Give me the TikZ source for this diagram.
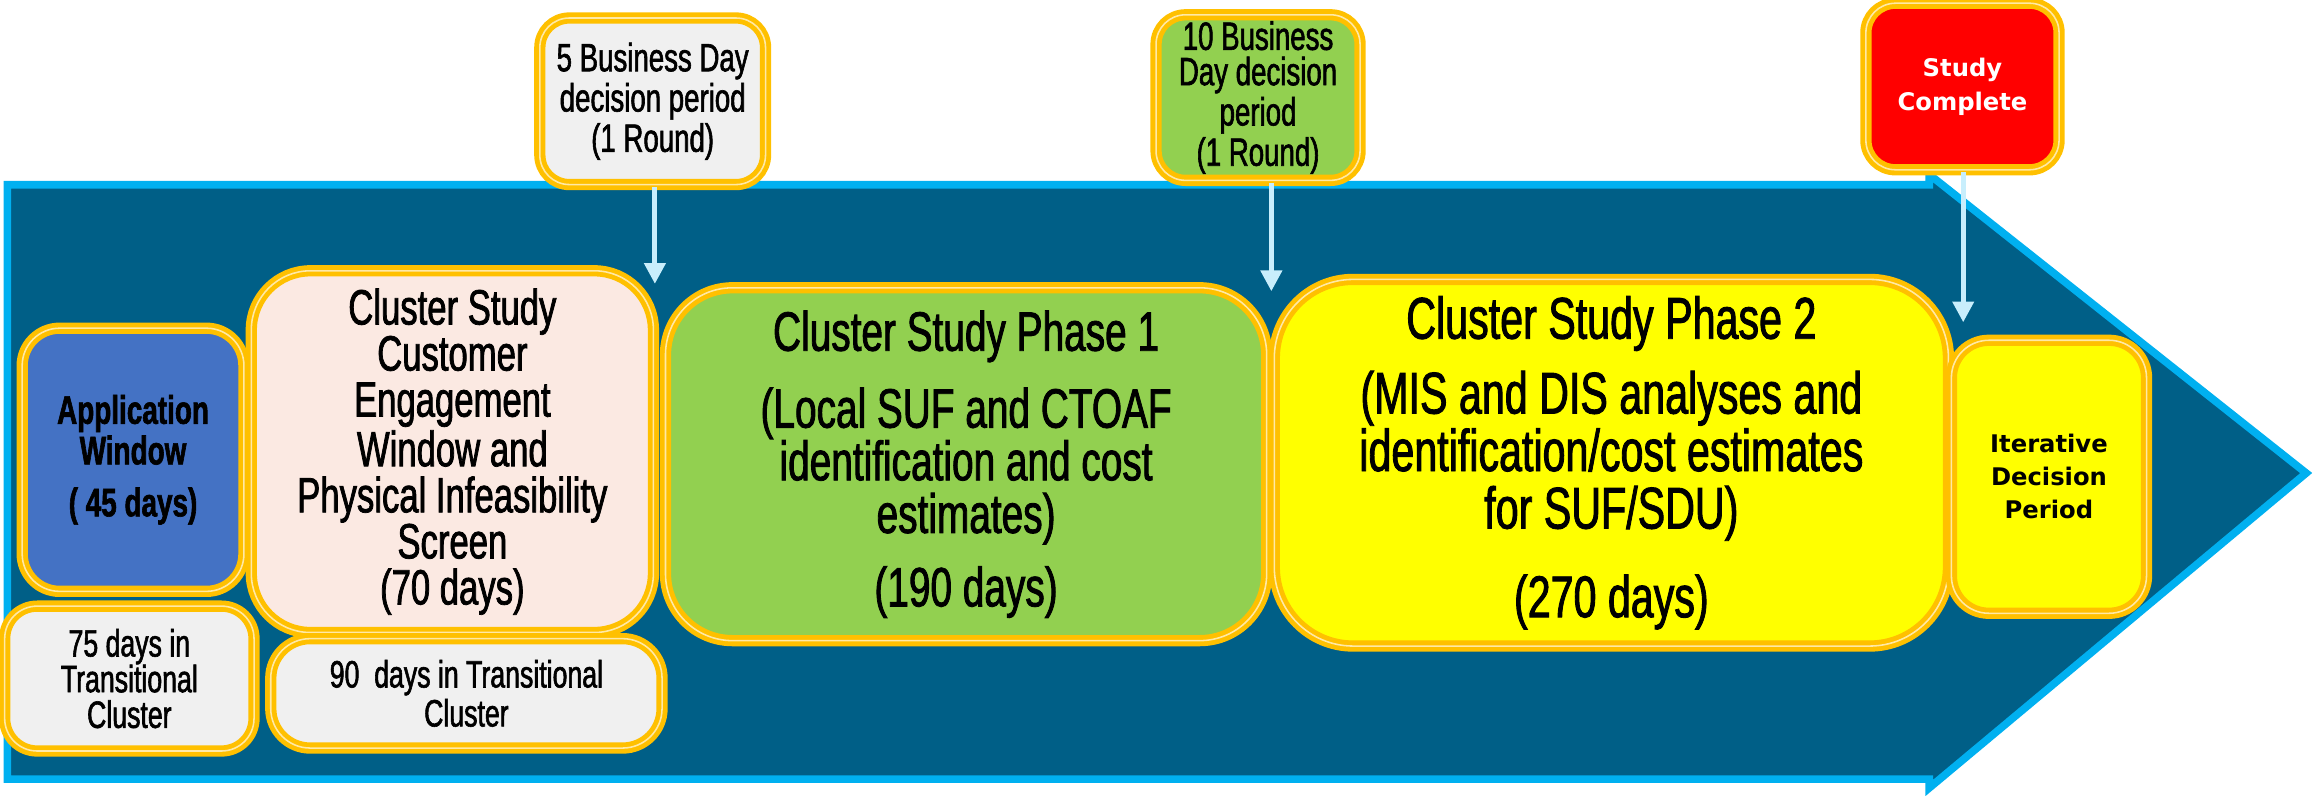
\documentclass[tikz,border=0pt]{standalone}
\usepackage{fontspec}
\setmainfont{Liberation Sans}[FakeStretch=0.7, FakeBold=1.5]
\newfontfamily\wide{DejaVu Sans}
\usetikzlibrary{arrows.meta}
\definecolor{gold}{RGB}{255,192,0}
\definecolor{sea}{RGB}{0,95,135}
\definecolor{sky}{RGB}{0,176,240}
\definecolor{pale}{RGB}{200,238,252}
\definecolor{grey1}{RGB}{240,240,240}
\definecolor{pink1}{RGB}{251,233,226}
\definecolor{blue1}{RGB}{68,114,196}
\definecolor{green1}{RGB}{146,208,80}
\definecolor{yellow1}{RGB}{255,255,0}
\definecolor{red1}{RGB}{255,0,0}
\begin{document}
\begin{tikzpicture}[x=0.15mm,y=-0.15mm,
  box/.style={draw=gold, double=gold!35, double distance=0.45pt, line width=1.4pt,
    align=center, inner sep=0pt},
  drop/.style={draw=pale, line width=1.4pt, -{Triangle[width=6pt,length=6pt,fill=pale]}}]
  \useasboundingbox (0,0) rectangle (1568,538);
  % the big arrow
  \draw[draw=sky, fill=sea, line width=2.2pt] (5,125) -- (1305,125) -- (1305,118)
    -- (1560,320) -- (1305,533) -- (1305,527) -- (5,527) -- cycle;
  % stages
  \node[box, fill=blue1, minimum width=2.25cm, minimum height=2.67cm, rounded corners=0.38cm,
    font=\fontsize{11.5}{10}\selectfont\bfseries] (app) at (90,311)
    {Application\\Window\\[5pt]( 45 days)};
  \node[box, fill=grey1, minimum width=2.53cm, minimum height=1.47cm, rounded corners=0.33cm,
    font=\fontsize{11}{10.3}\selectfont] (t75) at (87.5,459)
    {75 days in\\Transitional\\Cluster};
  \node[box, fill=pink1, minimum width=4.08cm, minimum height=3.67cm, rounded corners=0.6cm,
    font=\fontsize{14.3}{13.3}\selectfont] (cce) at (306,305.5)
    {Cluster Study\\Customer\\Engagement\\Window and\\Physical Infeasibility\\Screen\\(70 days)};
  \node[box, fill=grey1, minimum width=3.97cm, minimum height=1.11cm, rounded corners=0.4cm,
    font=\fontsize{11}{9.6}\selectfont] (t90) at (315.5,469)
    {90\ \ days in Transitional\\Cluster};
  \node[box, fill=green1, minimum width=6.1cm, minimum height=3.58cm, rounded corners=0.68cm,
    font=\fontsize{16}{15.2}\selectfont] (ph1) at (653.5,314)
    {Cluster Study Phase 1\\[7pt](Local SUF and CTOAF\\identification and cost\\estimates)\\[6pt](190 days)};
  \node[box, fill=yellow1, minimum width=6.84cm, minimum height=3.72cm, rounded corners=0.8cm,
    font=\fontsize{17}{16.6}\selectfont] (ph2) at (1090,313)
    {Cluster Study Phase 2\\[5pt](MIS and DIS analyses and\\identification/cost estimates\\for SUF/SDU)\\[9pt](270 days)};
  \node[box, fill=yellow1, minimum width=1.98cm, minimum height=2.77cm, rounded corners=0.38cm,
    font=\wide\fontsize{7}{9.5}\selectfont\bfseries] (idp) at (1386,322.5)
    {Iterative\\Decision\\Period};
  % decision points
  \node[box, fill=grey1, minimum width=2.29cm, minimum height=1.69cm, rounded corners=0.3cm,
    font=\fontsize{11.4}{9.8}\selectfont] (top5) at (441.5,68.5)
    {5 Business Day\\decision period\\(1 Round)};
  \node[box, fill=green1, minimum width=2.07cm, minimum height=1.68cm, rounded corners=0.3cm,
    font=\fontsize{11.4}{10.2}\selectfont] (top10) at (851,66)
    {10 Business\\Day decision\\period\\(1 Round)};
  \node[box, fill=red1, text=white, minimum width=1.96cm, minimum height=1.69cm, rounded corners=0.3cm,
    font=\wide\fontsize{7}{9.8}\selectfont\bfseries] (done) at (1327.5,58.5)
    {Study\\Complete};
  \coordinate (e1) at (443,192);
  \coordinate (e2) at (860,197);
  \coordinate (e3) at (1328,218);
  \draw[drop] (top5.south -| e1) -- (e1);
  \draw[drop] (top10.south -| e2) -- (e2);
  \draw[drop] (done.south -| e3) -- (e3);
\end{tikzpicture}
\end{document}
